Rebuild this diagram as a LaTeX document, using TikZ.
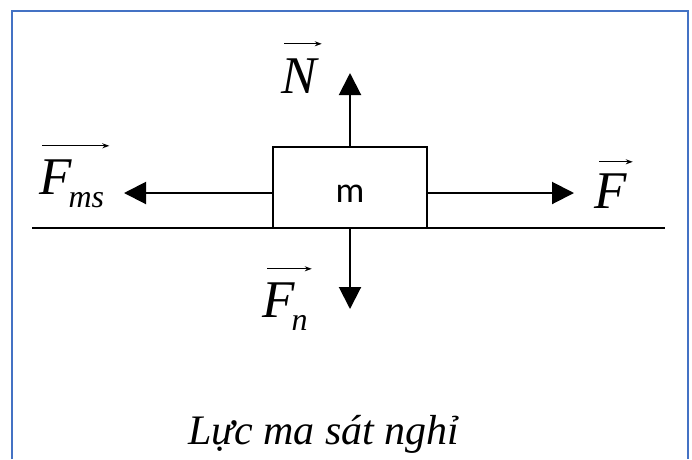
\documentclass[tikz,border=0pt]{standalone}
\usepackage{amsmath, amssymb}
\usepackage{fontspec}
\setmainfont{Liberation Serif}
\newfontfamily\boxfont{Carlito}
\usepackage{tikz}
\usepackage{xcolor}
\usetikzlibrary{arrows.meta}

\definecolor{frameblue}{RGB}{68,114,196}
\newcommand{\lowsub}[1]{\kern-3pt\raisebox{-13pt}{\fontsize{32}{36}\selectfont #1}}
\tikzset{
  force/.style={line width=2pt, -{Triangle[length=22pt,width=22pt]}},
  vecbar/.style={line width=1.2pt, -{Stealth[length=7pt,width=5pt]}},
  vlabel/.style={anchor=base west, inner sep=0pt, font=\fontsize{53}{60}\selectfont\itshape},
}

\begin{document}
\begin{tikzpicture}[x=1pt, y=-1pt]
  \useasboundingbox (0,0) rectangle (692,459);
  % Ramme
  \draw[frameblue, line width=2.5pt] (12,459) -- (12,11) -- (688,11) -- (688,459);
  % Underlag og kloss
  \draw[line width=2pt] (32,228) -- (665,228);
  \node[draw, line width=2pt, minimum width=154pt, minimum height=81pt, inner sep=0pt,
        text height=29pt, text depth=0pt, font=\boxfont\fontsize{36}{40}\selectfont]
        (block) at (350,187.5) {m};
  % Kraftpiler
  \coordinate (nTip) at (350,73);
  \coordinate (fnTip) at (350,309);
  \coordinate (fmsTip) at (124,193);
  \coordinate (fTip) at (574,193);
  \draw[force] (block.north) -- (nTip);
  \draw[force] (block.south) -- (fnTip);
  \draw[force] (block.west |- fmsTip) -- (fmsTip);
  \draw[force] (block.east |- fTip) -- (fTip);
  % Vektornavn med pil over
  \node[vlabel, text height=35pt] (labN) at (281,93) {N};
  \node[vlabel, text height=35pt] (labF) at (594,208) {F};
  \node[vlabel, text height=35pt] (labFms) at (39,194) {F\lowsub{ms}};
  \node[vlabel, text height=35pt] (labFn) at (262,317) {F\lowsub{n}};
  \draw[vecbar] ([xshift=3pt, yshift=14pt]labN.north west) -- ([xshift=5pt, yshift=14pt]labN.north east);
  \draw[vecbar] ([xshift=5pt, yshift=11pt]labF.north west) -- ([xshift=6pt, yshift=11pt]labF.north east);
  \draw[vecbar] ([xshift=3pt, yshift=13pt]labFms.north west) -- ([xshift=5pt, yshift=13pt]labFms.north east);
  \draw[vecbar] ([xshift=5pt, yshift=13pt]labFn.north west) -- ([xshift=4pt, yshift=13pt]labFn.north east);
  % Tekst under
  \node[anchor=base west, inner sep=0pt, font=\fontsize{42}{48}\selectfont\itshape]
        (caption) at (188,444) {Lực ma sát nghỉ};
\end{tikzpicture}
\end{document}
